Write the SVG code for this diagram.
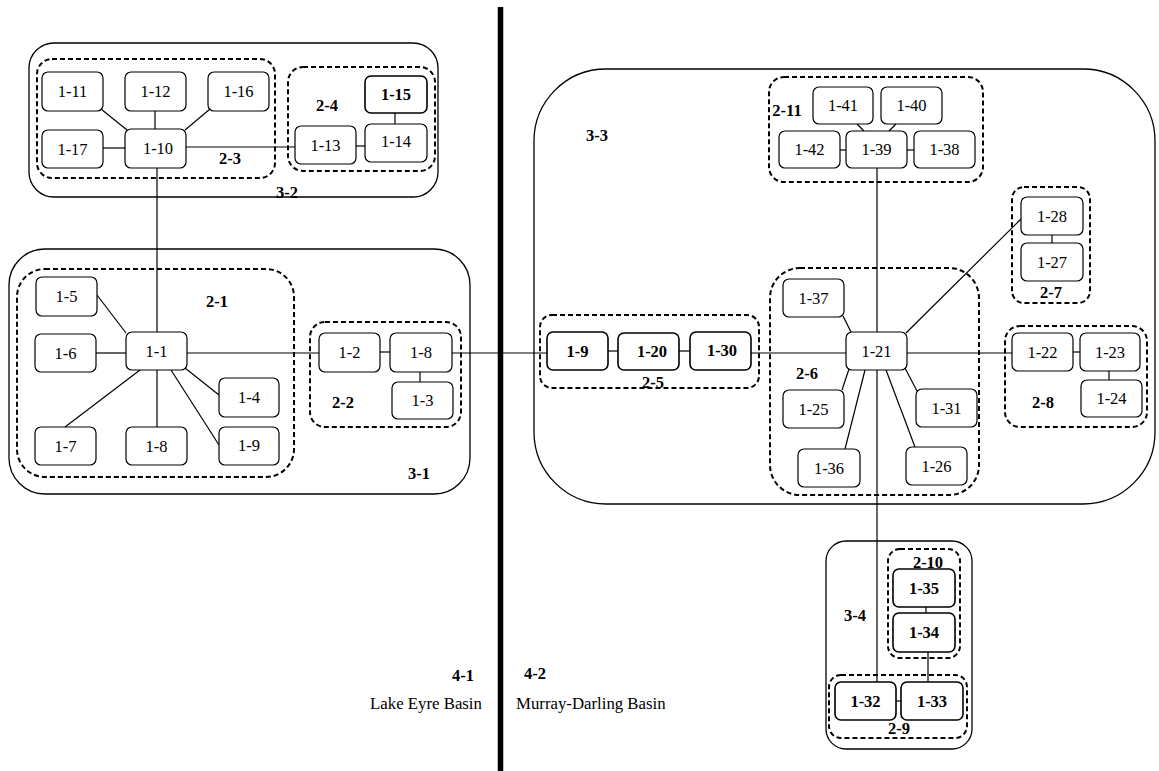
<svg xmlns="http://www.w3.org/2000/svg" width="1159" height="771" viewBox="0 0 1159 771">
<style>
.bg{fill:#fff}
.outer{fill:none;stroke:#000;stroke-width:1.3}
.dash{fill:none;stroke:#000;stroke-width:2;stroke-dasharray:5,3}
.node rect{fill:#fff;stroke:#000;stroke-width:1.2}
.node.b rect{stroke-width:1.6}
.node text{font-family:"Liberation Serif","Times New Roman",serif;font-size:16.5px;text-anchor:middle;fill:#000}
.node.b text{font-weight:bold}
.lbl{font-family:"Liberation Serif","Times New Roman",serif;font-size:16.5px;font-weight:bold;text-anchor:middle;fill:#000}
.plain{font-family:"Liberation Serif","Times New Roman",serif;font-size:16.8px;fill:#000}
.conn line{stroke:#000;stroke-width:1.2}
</style>
<rect class="bg" x="0" y="0" width="1159" height="771"/>
<g id="groups">
<rect class="outer" x="29" y="43" width="409" height="154" rx="25"/>
<rect class="dash" x="37" y="59" width="238" height="119" rx="15"/>
<rect class="dash" x="288" y="67" width="147" height="104" rx="15"/>
<rect class="outer" x="9" y="249" width="461" height="245" rx="36"/>
<rect class="dash" x="17" y="269" width="277" height="208" rx="28"/>
<rect class="dash" x="310" y="322" width="151" height="105" rx="15"/>
<rect class="outer" x="534" y="69" width="621" height="435" rx="72"/>
<rect class="dash" x="769" y="77" width="214" height="105" rx="15"/>
<rect class="dash" x="1012" y="187" width="78" height="116" rx="12"/>
<rect class="dash" x="1005" y="326" width="142" height="101" rx="15"/>
<rect class="dash" x="540" y="315" width="219" height="73" rx="12"/>
<rect class="dash" x="770" y="268" width="209" height="227" rx="30"/>
<rect class="outer" x="826" y="541" width="146" height="208" rx="20"/>
<rect class="dash" x="888" y="549" width="72" height="109" rx="12"/>
<rect class="dash" x="829" y="675" width="138" height="63" rx="12"/>
</g>
<line x1="500.5" y1="7" x2="500.5" y2="771" stroke="#000" stroke-width="5.5"/>
<g id="connectors" class="conn">
<line x1="157" y1="168" x2="157" y2="332"/>
<line x1="101" y1="109" x2="127" y2="130"/>
<line x1="155" y1="111" x2="155" y2="129"/>
<line x1="210" y1="109" x2="185" y2="130"/>
<line x1="103" y1="148" x2="125" y2="148"/>
<line x1="186" y1="147" x2="295" y2="147"/>
<line x1="356" y1="146" x2="365" y2="146"/>
<line x1="395" y1="113" x2="395" y2="124"/>
<line x1="97" y1="295" x2="126" y2="333"/>
<line x1="96" y1="353" x2="126" y2="353"/>
<line x1="187" y1="353" x2="319" y2="353"/>
<line x1="380" y1="352" x2="390" y2="352"/>
<line x1="420" y1="372" x2="420" y2="382"/>
<line x1="452" y1="353" x2="547" y2="353"/>
<line x1="185" y1="368" x2="219" y2="395"/>
<line x1="140" y1="370" x2="65" y2="427"/>
<line x1="157" y1="370" x2="157" y2="427"/>
<line x1="171" y1="370" x2="219" y2="445"/>
<line x1="608" y1="351" x2="618" y2="351"/>
<line x1="679" y1="351" x2="690" y2="351"/>
<line x1="751" y1="353" x2="846" y2="353"/>
<line x1="907" y1="353" x2="1012" y2="353"/>
<line x1="1073" y1="352" x2="1080" y2="352"/>
<line x1="1109" y1="371" x2="1109" y2="380"/>
<line x1="906" y1="333" x2="1021" y2="219"/>
<line x1="851" y1="332" x2="843" y2="316"/>
<line x1="849" y1="369" x2="842" y2="390"/>
<line x1="865" y1="370" x2="845" y2="449"/>
<line x1="905" y1="368" x2="917" y2="391"/>
<line x1="886" y1="370" x2="915" y2="447"/>
<line x1="877" y1="168" x2="877" y2="682"/>
<line x1="857" y1="124" x2="864" y2="131"/>
<line x1="896" y1="124" x2="889" y2="131"/>
<line x1="840" y1="150" x2="846" y2="150"/>
<line x1="907" y1="150" x2="914" y2="150"/>
<line x1="1052" y1="235" x2="1052" y2="243"/>
<line x1="926" y1="607" x2="926" y2="613"/>
<line x1="928" y1="652" x2="928" y2="682"/>
<line x1="896" y1="701" x2="901" y2="701"/>
</g>
<g id="n1-11" class="node"><rect x="42" y="72" width="61" height="39" rx="6"/><text x="72.5" y="97">1-11</text></g>
<g id="n1-12" class="node"><rect x="125" y="72" width="61" height="39" rx="6"/><text x="155.5" y="97">1-12</text></g>
<g id="n1-16" class="node"><rect x="208" y="72" width="61" height="39" rx="6"/><text x="238.5" y="97">1-16</text></g>
<g id="n1-17" class="node"><rect x="42" y="130" width="61" height="38" rx="6"/><text x="72.5" y="154.5">1-17</text></g>
<g id="n1-10" class="node"><rect x="125" y="129" width="61" height="39" rx="6"/><text x="158" y="154">1-10</text></g>
<g id="n1-15" class="node b"><rect x="365" y="76" width="62" height="37" rx="6"/><text x="396" y="100">1-15</text></g>
<g id="n1-14" class="node"><rect x="365" y="124" width="62" height="38" rx="6"/><text x="396" y="147">1-14</text></g>
<g id="n1-13" class="node"><rect x="295" y="126" width="61" height="38" rx="6"/><text x="325.5" y="151">1-13</text></g>
<g id="n1-5" class="node"><rect x="36" y="277" width="61" height="39" rx="6"/><text x="66.5" y="302">1-5</text></g>
<g id="n1-6" class="node"><rect x="35" y="334" width="61" height="38" rx="6"/><text x="65.5" y="358.5">1-6</text></g>
<g id="n1-1" class="node"><rect x="126" y="332" width="61" height="38" rx="6"/><text x="156.5" y="356.5">1-1</text></g>
<g id="n1-4" class="node"><rect x="219" y="378" width="60" height="39" rx="6"/><text x="249" y="403">1-4</text></g>
<g id="n1-7" class="node"><rect x="35" y="427" width="61" height="38" rx="6"/><text x="65.5" y="451.5">1-7</text></g>
<g id="n1-8a" class="node"><rect x="126" y="427" width="61" height="38" rx="6"/><text x="156.5" y="452">1-8</text></g>
<g id="n1-9a" class="node"><rect x="219" y="427" width="60" height="38" rx="6"/><text x="249" y="451">1-9</text></g>
<g id="n1-2" class="node"><rect x="319" y="333" width="61" height="39" rx="6"/><text x="349.5" y="358">1-2</text></g>
<g id="n1-8b" class="node"><rect x="390" y="333" width="62" height="39" rx="6"/><text x="421" y="358">1-8</text></g>
<g id="n1-3" class="node"><rect x="392" y="382" width="61" height="37" rx="6"/><text x="422.5" y="406">1-3</text></g>
<g id="n1-9b" class="node b"><rect x="547" y="332" width="61" height="38" rx="6"/><text x="577.5" y="356.5">1-9</text></g>
<g id="n1-20" class="node b"><rect x="618" y="333" width="61" height="37" rx="6"/><text x="652" y="357">1-20</text></g>
<g id="n1-30" class="node b"><rect x="690" y="332" width="61" height="38" rx="6"/><text x="722" y="356">1-30</text></g>
<g id="n1-41" class="node"><rect x="813" y="87" width="60" height="37" rx="6"/><text x="843" y="111">1-41</text></g>
<g id="n1-40" class="node"><rect x="881" y="87" width="61" height="37" rx="6"/><text x="911.5" y="111">1-40</text></g>
<g id="n1-42" class="node"><rect x="779" y="131" width="61" height="37" rx="6"/><text x="809.5" y="155">1-42</text></g>
<g id="n1-39" class="node"><rect x="846" y="131" width="61" height="37" rx="6"/><text x="876.5" y="155">1-39</text></g>
<g id="n1-38" class="node"><rect x="914" y="131" width="61" height="37" rx="6"/><text x="944.5" y="155">1-38</text></g>
<g id="n1-28" class="node"><rect x="1021" y="197" width="62" height="38" rx="6"/><text x="1052" y="221.5">1-28</text></g>
<g id="n1-27" class="node"><rect x="1021" y="243" width="62" height="38" rx="6"/><text x="1052" y="267.5">1-27</text></g>
<g id="n1-37" class="node"><rect x="783" y="279" width="61" height="38" rx="6"/><text x="813.5" y="303.5">1-37</text></g>
<g id="n1-25" class="node"><rect x="783" y="390" width="61" height="38" rx="6"/><text x="813.5" y="414.5">1-25</text></g>
<g id="n1-36" class="node"><rect x="798" y="449" width="62" height="38" rx="6"/><text x="829" y="473.5">1-36</text></g>
<g id="n1-21" class="node"><rect x="846" y="332" width="61" height="38" rx="6"/><text x="876.5" y="356.5">1-21</text></g>
<g id="n1-31" class="node"><rect x="916" y="389" width="61" height="38" rx="6"/><text x="946.5" y="413.5">1-31</text></g>
<g id="n1-26" class="node"><rect x="906" y="447" width="61" height="38" rx="6"/><text x="936.5" y="471.5">1-26</text></g>
<g id="n1-22" class="node"><rect x="1012" y="333" width="61" height="38" rx="6"/><text x="1042.5" y="357.5">1-22</text></g>
<g id="n1-23" class="node"><rect x="1080" y="333" width="60" height="38" rx="6"/><text x="1110" y="357.5">1-23</text></g>
<g id="n1-24" class="node"><rect x="1081" y="380" width="61" height="37" rx="6"/><text x="1111.5" y="404">1-24</text></g>
<g id="n1-35" class="node b"><rect x="893" y="569" width="62" height="38" rx="6"/><text x="924" y="593.5">1-35</text></g>
<g id="n1-34" class="node b"><rect x="893" y="613" width="62" height="39" rx="6"/><text x="924" y="638">1-34</text></g>
<g id="n1-32" class="node b"><rect x="835" y="682" width="61" height="38" rx="6"/><text x="865.5" y="706.5">1-32</text></g>
<g id="n1-33" class="node b"><rect x="901" y="682" width="62" height="38" rx="6"/><text x="932" y="706.5">1-33</text></g>
<g id="labels">
<text class="lbl" x="287" y="198">3-2</text>
<text class="lbl" x="230" y="164">2-3</text>
<text class="lbl" x="327" y="111">2-4</text>
<text class="lbl" x="217" y="307">2-1</text>
<text class="lbl" x="343" y="408">2-2</text>
<text class="lbl" x="419" y="479">3-1</text>
<text class="lbl" x="597" y="141">3-3</text>
<text class="lbl" x="787" y="116">2-11</text>
<text class="lbl" x="1051" y="298">2-7</text>
<text class="lbl" x="653" y="388">2-5</text>
<text class="lbl" x="807" y="379">2-6</text>
<text class="lbl" x="1043" y="408">2-8</text>
<text class="lbl" x="855" y="621">3-4</text>
<text class="lbl" x="928" y="568">2-10</text>
<text class="lbl" x="899" y="734">2-9</text>
<text class="lbl" x="463" y="681">4-1</text>
<text class="lbl" x="535" y="679">4-2</text>
<text class="plain" x="426" y="709" text-anchor="middle">Lake Eyre Basin</text>
<text class="plain" x="516" y="709">Murray-Darling Basin</text>
</g>
</svg>
